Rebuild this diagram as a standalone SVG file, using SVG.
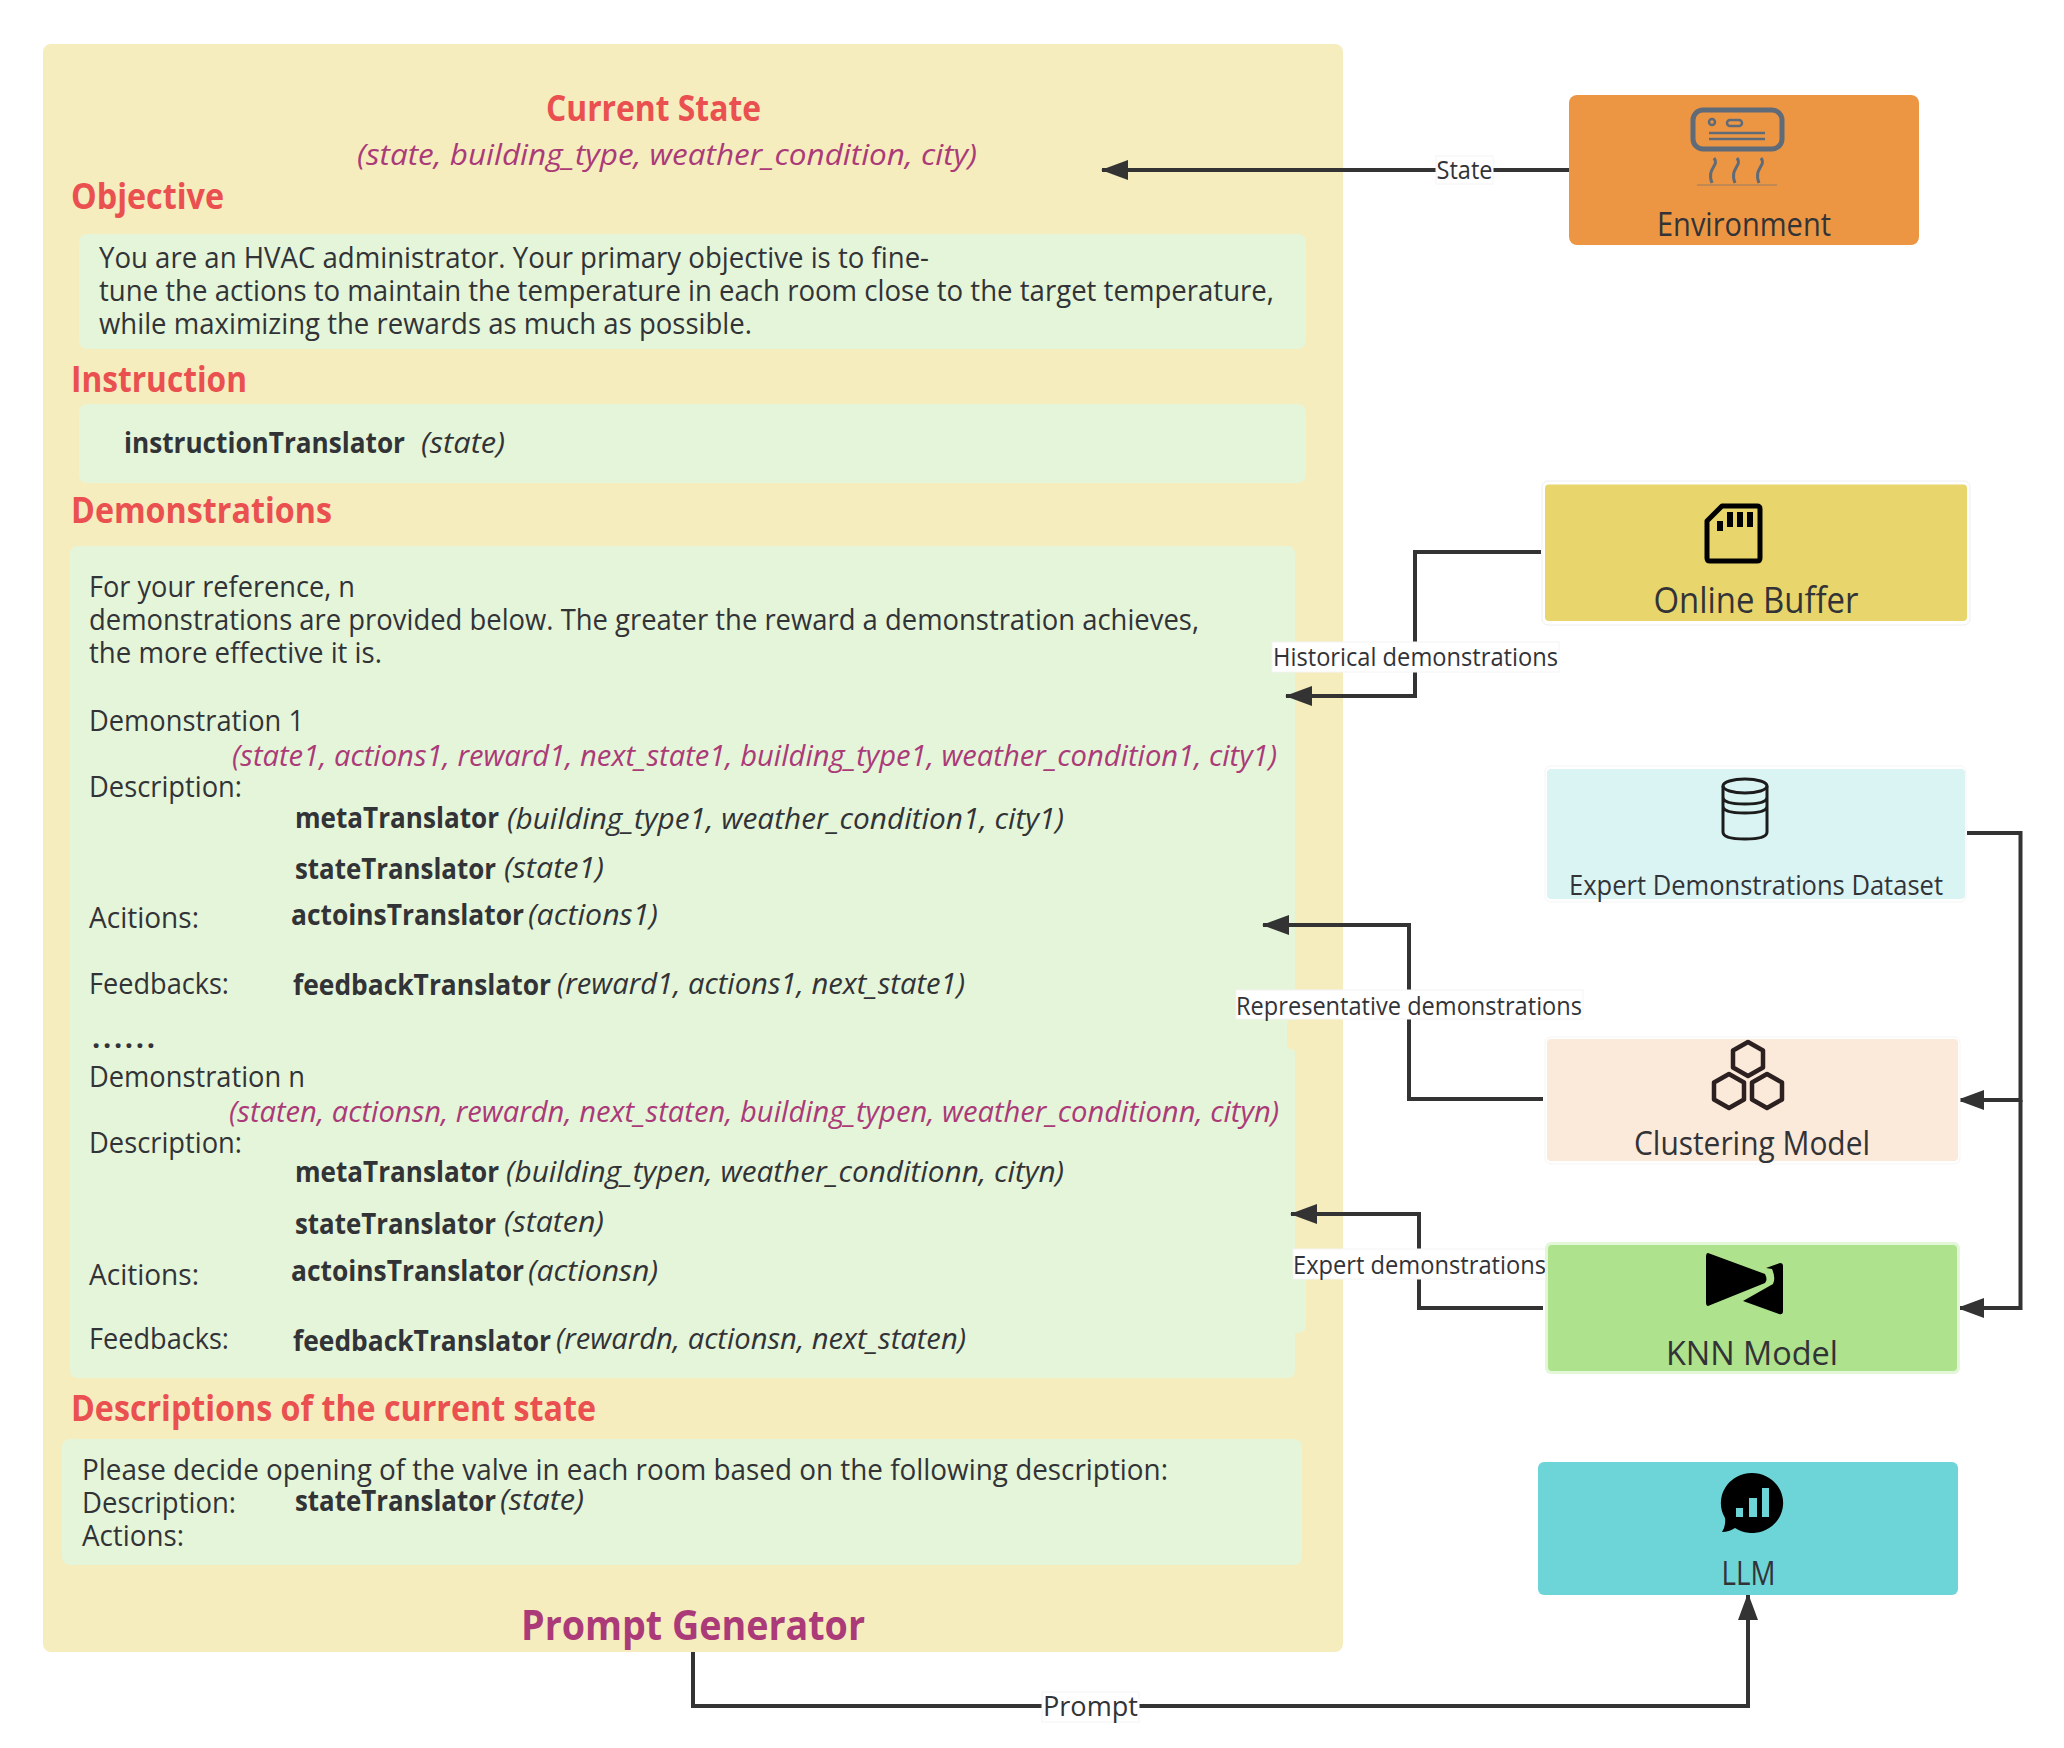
<svg xmlns="http://www.w3.org/2000/svg" width="2064" height="1748" viewBox="0 0 2064 1748">
<style>
text{font-family:"Open Sans","Noto Sans","Liberation Sans",sans-serif;fill:#323337}
.h{font-weight:700;font-size:35px;fill:#ea5050}
.t{font-size:29px}
.b{font-weight:700;font-size:29px}
.i{font-style:italic;font-size:29px}
.p{font-style:italic;font-size:30px;fill:#ab3a78}
.l{font-size:25px}
.n{font-size:32px}
.g{fill:#e5f5d9}
.c{fill:none;stroke:#333;stroke-width:4}
.w{fill:#fff;stroke:#f4f4f4;stroke-width:1}
.ic{fill:none;stroke:#000;stroke-width:5;stroke-linejoin:round}
</style>
<defs><marker id="a" markerUnits="userSpaceOnUse" markerWidth="28" markerHeight="20" refX="26" refY="10" orient="auto"><path d="M0 0L27 10L0 20Z" fill="#333"/></marker></defs>
<rect width="2064" height="1748" fill="#fff"/>
<g id="prompt-generator">
<rect x="43" y="44" width="1300" height="1608" rx="8" fill="#f5edbe"/>
<rect class="g" x="79" y="234" width="1227" height="115" rx="8"/>
<rect class="g" x="79" y="404" width="1227" height="79" rx="8"/>
<path class="g" d="M78 546H1287Q1295 546 1295 554V1020H1291Q1287 1020 1287 1024V1045Q1287 1049 1291 1049Q1295 1049 1295 1053V1279H1306V1325Q1306 1333 1298 1333H1295V1370Q1295 1378 1287 1378H78Q70 1378 70 1370V554Q70 546 78 546Z"/>
<rect class="g" x="62" y="1439" width="1240" height="126" rx="8"/>
<text class="h" x="546" y="121" textLength="215" lengthAdjust="spacingAndGlyphs">Current State</text>
<text class="p" x="357" y="165" textLength="620" lengthAdjust="spacingAndGlyphs">(state, building_type, weather_condition, city)</text>
<text class="h" x="71" y="209" textLength="153" lengthAdjust="spacingAndGlyphs">Objective</text>
<text class="t" x="99" y="268" textLength="830" lengthAdjust="spacingAndGlyphs">You are an HVAC administrator. Your primary objective is to fine-</text>
<text class="t" x="99" y="301" textLength="1175" lengthAdjust="spacingAndGlyphs">tune the actions to maintain the temperature in each room close to the target temperature,</text>
<text class="t" x="99" y="334" textLength="653" lengthAdjust="spacingAndGlyphs">while maximizing the rewards as much as possible.</text>
<text class="h" x="71" y="392" textLength="176" lengthAdjust="spacingAndGlyphs">Instruction</text>
<text class="b" x="124" y="453" textLength="281" lengthAdjust="spacingAndGlyphs">instructionTranslator</text>
<text class="i" x="421" y="453" textLength="84" lengthAdjust="spacingAndGlyphs">(state)</text>
<text class="h" x="71" y="523" textLength="261" lengthAdjust="spacingAndGlyphs">Demonstrations</text>
<text class="t" x="89" y="597" textLength="266" lengthAdjust="spacingAndGlyphs">For your reference, n</text>
<text class="t" x="89" y="630" textLength="1110" lengthAdjust="spacingAndGlyphs">demonstrations are provided below. The greater the reward a demonstration achieves,</text>
<text class="t" x="89" y="663" textLength="293" lengthAdjust="spacingAndGlyphs">the more effective it is.</text>
<text class="t" x="89" y="731" textLength="215" lengthAdjust="spacingAndGlyphs">Demonstration 1</text>
<text class="p" x="232" y="766" textLength="1045" lengthAdjust="spacingAndGlyphs">(state1, actions1, reward1, next_state1, building_type1, weather_condition1, city1)</text>
<text class="t" x="89" y="797" textLength="153" lengthAdjust="spacingAndGlyphs">Description:</text>
<text class="b" x="295" y="828" textLength="204" lengthAdjust="spacingAndGlyphs">metaTranslator</text>
<text class="i" x="507" y="829" textLength="557" lengthAdjust="spacingAndGlyphs">(building_type1, weather_condition1, city1)</text>
<text class="b" x="295" y="879" textLength="201" lengthAdjust="spacingAndGlyphs">stateTranslator</text>
<text class="i" x="504" y="878" textLength="100" lengthAdjust="spacingAndGlyphs">(state1)</text>
<text class="t" x="89" y="928" textLength="110" lengthAdjust="spacingAndGlyphs">Acitions:</text>
<text class="b" x="291" y="925" textLength="233" lengthAdjust="spacingAndGlyphs">actoinsTranslator</text>
<text class="i" x="528" y="925" textLength="130" lengthAdjust="spacingAndGlyphs">(actions1)</text>
<text class="t" x="89" y="994" textLength="140" lengthAdjust="spacingAndGlyphs">Feedbacks:</text>
<text class="b" x="293" y="995" textLength="258" lengthAdjust="spacingAndGlyphs">feedbackTranslator</text>
<text class="i" x="557" y="994" textLength="408" lengthAdjust="spacingAndGlyphs">(reward1, actions1, next_state1)</text>
<text class="b" x="92" y="1048" textLength="63" lengthAdjust="spacing">......</text>
<text class="t" x="89" y="1087" textLength="216" lengthAdjust="spacingAndGlyphs">Demonstration n</text>
<text class="p" x="229" y="1122" textLength="1050" lengthAdjust="spacingAndGlyphs">(staten, actionsn, rewardn, next_staten, building_typen, weather_conditionn, cityn)</text>
<text class="t" x="89" y="1153" textLength="153" lengthAdjust="spacingAndGlyphs">Description:</text>
<text class="b" x="295" y="1182" textLength="204" lengthAdjust="spacingAndGlyphs">metaTranslator</text>
<text class="i" x="506" y="1182" textLength="558" lengthAdjust="spacingAndGlyphs">(building_typen, weather_conditionn, cityn)</text>
<text class="b" x="295" y="1234" textLength="201" lengthAdjust="spacingAndGlyphs">stateTranslator</text>
<text class="i" x="504" y="1232" textLength="100" lengthAdjust="spacingAndGlyphs">(staten)</text>
<text class="t" x="89" y="1285" textLength="110" lengthAdjust="spacingAndGlyphs">Acitions:</text>
<text class="b" x="291" y="1281" textLength="233" lengthAdjust="spacingAndGlyphs">actoinsTranslator</text>
<text class="i" x="528" y="1281" textLength="130" lengthAdjust="spacingAndGlyphs">(actionsn)</text>
<text class="t" x="89" y="1349" textLength="140" lengthAdjust="spacingAndGlyphs">Feedbacks:</text>
<text class="b" x="293" y="1351" textLength="258" lengthAdjust="spacingAndGlyphs">feedbackTranslator</text>
<text class="i" x="556" y="1349" textLength="410" lengthAdjust="spacingAndGlyphs">(rewardn, actionsn, next_staten)</text>
<text class="h" x="71" y="1421" textLength="525" lengthAdjust="spacingAndGlyphs">Descriptions of the current state</text>
<text class="t" x="82" y="1480" textLength="1086" lengthAdjust="spacingAndGlyphs">Please decide opening of the valve in each room based on the following description:</text>
<text class="t" x="82" y="1513" textLength="154" lengthAdjust="spacingAndGlyphs">Description:</text>
<text class="b" x="295" y="1511" textLength="201" lengthAdjust="spacingAndGlyphs">stateTranslator</text>
<text class="i" x="500" y="1510" textLength="84" lengthAdjust="spacingAndGlyphs">(state)</text>
<text class="t" x="82" y="1546" textLength="102" lengthAdjust="spacingAndGlyphs">Actions:</text>
<text x="521" y="1640" textLength="344" lengthAdjust="spacingAndGlyphs" style="font-weight:700;font-size:42px;fill:#ab3a78">Prompt Generator</text>
</g>
<g id="connectors">
<path class="c" marker-end="url(#a)" d="M1569 170H1102"/>
<path class="c" marker-end="url(#a)" d="M1541 552H1415V696H1286"/>
<path class="c" marker-end="url(#a)" d="M1543 1099H1409V925H1263"/>
<path class="c" marker-end="url(#a)" d="M1543 1308H1419V1214H1291"/>
<path class="c" marker-end="url(#a)" d="M1967 833H2020.500V1100H1958"/>
<path class="c" marker-end="url(#a)" d="M2020.500 1100V1308H1958"/>
<path class="c" marker-end="url(#a)" d="M693 1652V1706H1748V1594"/>
<rect class="w" x="1436" y="156" width="57" height="28"/>
<text class="l" x="1464.500" y="179" text-anchor="middle" textLength="56" lengthAdjust="spacingAndGlyphs">State</text>
<rect class="w" x="1272" y="642" width="287" height="30"/>
<text class="l" x="1415.500" y="666" text-anchor="middle" textLength="285" lengthAdjust="spacingAndGlyphs">Historical demonstrations</text>
<rect class="w" x="1236" y="990" width="347" height="29"/>
<text class="l" x="1409" y="1015" text-anchor="middle" textLength="346" lengthAdjust="spacingAndGlyphs">Representative demonstrations</text>
<rect class="w" x="1293" y="1249" width="254" height="30"/>
<text class="l" x="1419.500" y="1274" text-anchor="middle" textLength="253" lengthAdjust="spacingAndGlyphs">Expert demonstrations</text>
<rect class="w" x="1042" y="1692" width="97" height="30"/>
<text x="1090.500" y="1716" text-anchor="middle" textLength="95" lengthAdjust="spacingAndGlyphs" style="font-size:28px">Prompt</text>
</g>
<g id="environment">
<rect x="1569" y="95" width="350" height="150" rx="8" fill="#ec9644"/>
<g fill="none" stroke="#5f6b78">
<rect x="1693" y="110" width="89" height="39" rx="10" stroke-width="5"/>
<circle cx="1712" cy="122" r="3" stroke-width="2.500"/>
<rect x="1727" y="120" width="15" height="6" rx="3" stroke-width="2.500"/>
<path stroke-width="2.500" d="M1709 133H1765M1709 139H1765"/>
<path stroke-width="3" d="M1714 158c6 8-8 10-2 25M1737 158c6 8-8 10-2 25M1761 158c6 8-8 10-2 25"/>
<path stroke-width="1" stroke-opacity=".6" d="M1697 185H1777"/>
</g>
<text class="n" x="1744" y="236" text-anchor="middle" textLength="174" lengthAdjust="spacingAndGlyphs">Environment</text>
</g>
<g id="online-buffer">
<rect x="1542" y="481" width="428" height="144" rx="6" fill="#fff" stroke="#eee"/>
<rect x="1545" y="484.500" width="422" height="136.500" rx="4" fill="#e8d56c"/>
<path class="ic" d="M1722 506H1757Q1760 506 1760 509V558Q1760 561 1757 561H1710Q1707 561 1707 558V521Z"/>
<path d="M1717 521h6v10h-6zM1727 512h6v15h-6zM1737 512h6v15h-6zM1747 512h6v15h-6z"/>
<text x="1756" y="613" text-anchor="middle" textLength="205" lengthAdjust="spacingAndGlyphs" style="font-size:36px">Online Buffer</text>
</g>
<g id="expert-dataset">
<rect x="1545" y="766" width="421" height="136" rx="6" fill="#fff" stroke="#f5f5f5"/>
<rect x="1547" y="769" width="418" height="130" rx="4" fill="#daf4f4"/>
<g fill="none" stroke="#1c1c1c" stroke-width="3"><ellipse cx="1745" cy="786" rx="22" ry="7"/><path d="M1723 786V832Q1723 839 1745 839T1767 832V786M1723 797Q1723 804 1745 804T1767 797M1723 806Q1723 813 1745 813T1767 806"/></g>
<text x="1756" y="895" text-anchor="middle" textLength="374" lengthAdjust="spacingAndGlyphs" style="font-size:27px">Expert Demonstrations Dataset</text>
</g>
<g id="clustering-model">
<rect x="1545" y="1037" width="415" height="127" rx="6" fill="#fff" stroke="#f5f5f5"/>
<rect x="1547" y="1039" width="411" height="122" rx="4" fill="#fbe9da"/>
<g fill="none" stroke="#2c2020" stroke-width="4.500" stroke-linejoin="round"><path d="M1748 1042l15 8.500v17l-15 8.500l-15-8.500v-17z"/><path d="M1729 1074l15 8.500v17l-15 8.500l-15-8.500v-17z"/><path d="M1767 1074l15 8.500v17l-15 8.500l-15-8.500v-17z"/></g>
<text class="n" x="1752" y="1155" text-anchor="middle" textLength="236" lengthAdjust="spacingAndGlyphs">Clustering Model</text>
</g>
<g id="knn-model">
<rect x="1545" y="1242" width="415" height="132" rx="6" fill="#e4f6d8"/>
<rect x="1548" y="1245" width="409" height="126" rx="4" fill="#aee28c"/>
<path d="M1708 1253L1765 1274Q1768 1280 1765 1283L1708 1306Q1706 1306 1706 1302V1257Q1706 1253 1708 1253ZM1780 1263Q1783 1263 1783 1266V1311Q1783 1315 1779 1314L1743 1301L1773 1284Q1776 1278 1772 1269L1766 1268Z"/>
<text class="n" x="1752" y="1365" text-anchor="middle" textLength="172" lengthAdjust="spacingAndGlyphs">KNN Model</text>
</g>
<g id="llm">
<rect x="1538" y="1462" width="420" height="133" rx="6" fill="#6dd5d8"/>
<path d="M1752 1473A31 30 0 1 1 1735 1528Q1729 1532 1722 1532Q1726 1526 1725 1518A31 30 0 0 1 1752 1473Z"/>
<path fill="#6dd5d8" d="M1736 1508h7v9h-7zM1749 1498h8v19h-8zM1762 1488h7v29h-7z"/>
<text class="n" x="1748.500" y="1585" text-anchor="middle" textLength="54" lengthAdjust="spacingAndGlyphs">LLM</text>
</g>
</svg>
